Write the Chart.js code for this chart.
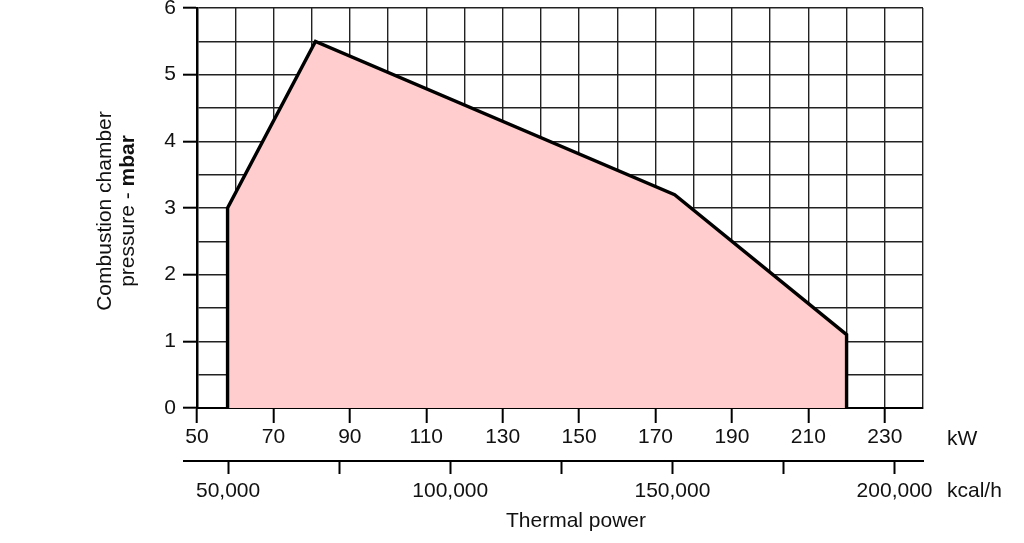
<!DOCTYPE html>
<html>
<head>
<meta charset="utf-8">
<script src="https://cdn.jsdelivr.net/npm/chart.js@4/dist/chart.umd.min.js"></script>
<style>
html,body{margin:0;padding:0;background:#fff;}
#wrap{width:1024px;height:543px;position:relative;}
</style>
</head>
<body>
<div id="wrap"><canvas id="c" width="1024" height="543"></canvas></div>
<script>
// ---- data ----
const kwMin = 50;
const kwMax = 240;
const kwGridStep = 10;
const kwTickLabels = [50, 70, 90, 110, 130, 150, 170, 190, 210, 230];
const kcalPerKw = 860;
const kcalTicks = [50000, 75000, 100000, 125000, 150000, 175000, 200000];
const kcalLabels = [50000, 100000, 150000, 200000];
const pressureMin = 0;
const pressureMax = 6;
const pressureGridStep = 0.5;
const pressureTickLabels = [0, 1, 2, 3, 4, 5, 6];
const curveKw = [58, 58, 81, 175, 220, 220];
const curveMbar = [0, 3, 5.5, 3.2, 1.1, 0];

const FONT = "'Liberation Sans', Arial, Helvetica, sans-serif";
const tickFont = {family: FONT, size: 21};

const points = curveKw.map((x, i) => ({x: x, y: curveMbar[i]}));

const textPlugin = {
  id: 'texts',
  afterDraw(chart) {
    const ctx = chart.ctx;
    const ca = chart.chartArea;
    const x2 = chart.scales.x2;
    ctx.save();
    // extend kcal/h axis line to the left
    ctx.strokeStyle = '#000';
    ctx.lineWidth = 2;
    ctx.beginPath();
    ctx.moveTo(183, Math.round(x2.top));
    ctx.lineTo(ca.left, Math.round(x2.top));
    ctx.stroke();

    ctx.fillStyle = '#111';
    ctx.textBaseline = 'middle';
    ctx.font = `21px ${FONT}`;
    ctx.textAlign = 'left';
    ctx.fillText('kW', 947, 439);
    ctx.fillText('kcal/h', 947, 491);
    ctx.textAlign = 'center';
    ctx.fillText('Thermal power', 576, 521);

    // rotated y title
    const cy = 211;
    ctx.save();
    ctx.translate(105, cy);
    ctx.rotate(-Math.PI / 2);
    ctx.textAlign = 'center';
    ctx.font = `21px ${FONT}`;
    ctx.fillText('Combustion chamber', 0, 0);
    ctx.restore();

    ctx.save();
    ctx.translate(128, cy);
    ctx.rotate(-Math.PI / 2);
    const partA = 'pressure - ';
    const partB = 'mbar';
    ctx.font = `21px ${FONT}`;
    const wA = ctx.measureText(partA).width;
    ctx.font = `bold 21px ${FONT}`;
    const wB = ctx.measureText(partB).width;
    const start = -(wA + wB) / 2;
    ctx.textAlign = 'left';
    ctx.font = `21px ${FONT}`;
    ctx.fillText(partA, start, 0);
    ctx.font = `bold 21px ${FONT}`;
    ctx.fillText(partB, start + wA, 0);
    ctx.restore();
    ctx.restore();
  }
};

new Chart(document.getElementById('c'), {
  type: 'scatter',
  data: {
    datasets: [{
      data: points,
      showLine: true,
      borderColor: '#000',
      borderWidth: 3.4,
      backgroundColor: 'rgb(255,205,205)',
      fill: 'origin',
      pointRadius: 0,
      tension: 0,
      borderJoinStyle: 'miter'
    }]
  },
  options: {
    responsive: false,
    animation: false,
    devicePixelRatio: 1,
    layout: {padding: {left: 0, right: 101, top: 8, bottom: 0}},
    plugins: {legend: {display: false}, tooltip: {enabled: false}},
    scales: {
      x: {
        type: 'linear',
        position: 'bottom',
        weight: 0,
        z: 1,
        min: kwMin,
        max: kwMax,
        afterBuildTicks: (axis) => {
          const t = [];
          for (let v = kwMin; v <= kwMax; v += kwGridStep) t.push({value: v});
          axis.ticks = t;
        },
        afterFit: (axis) => { axis.height = 53; axis.paddingLeft = 0; axis.paddingRight = 0; },
        grid: {
          color: '#222',
          lineWidth: 1.4,
          drawTicks: true,
          tickLength: 15,
          tickWidth: 2,
          tickColor: (c) => (c.tick && kwTickLabels.includes(c.tick.value)) ? '#000' : 'rgba(0,0,0,0)'
        },
        border: {display: true, color: '#000', width: 2},
        ticks: {
          autoSkip: false,
          maxRotation: 0,
          padding: 2,
          color: '#111',
          font: tickFont,
          callback: (v) => kwTickLabels.includes(v) ? String(v) : ''
        }
      },
      x2: {
        type: 'linear',
        position: 'bottom',
        weight: 1,
        min: kwMin * kcalPerKw,
        max: kwMax * kcalPerKw,
        afterBuildTicks: (axis) => { axis.ticks = kcalTicks.map(v => ({value: v})); },
        afterFit: (axis) => { axis.height = 82; axis.paddingLeft = 0; axis.paddingRight = 0; },
        grid: {
          drawOnChartArea: false,
          drawTicks: true,
          tickLength: 13,
          tickWidth: 2,
          tickColor: '#000'
        },
        border: {display: true, color: '#000', width: 2},
        ticks: {
          autoSkip: false,
          maxRotation: 0,
          padding: 5,
          color: '#111',
          font: tickFont,
          callback: (v) => kcalLabels.includes(v) ? v.toLocaleString('en-US') : ''
        }
      },
      y: {
        type: 'linear',
        z: 1,
        min: pressureMin,
        max: pressureMax,
        afterBuildTicks: (axis) => {
          const t = [];
          for (let v = pressureMin; v <= pressureMax + 1e-9; v += pressureGridStep) t.push({value: Math.round(v * 10) / 10});
          axis.ticks = t;
        },
        afterFit: (axis) => { axis.width = 197; axis.paddingTop = 0; axis.paddingBottom = 0; },
        grid: {
          color: '#222',
          lineWidth: 1.4,
          drawTicks: true,
          tickLength: 14,
          tickWidth: 2,
          tickColor: (c) => (c.tick && pressureTickLabels.includes(c.tick.value)) ? '#000' : 'rgba(0,0,0,0)'
        },
        border: {display: true, color: '#000', width: 2.5},
        ticks: {
          autoSkip: false,
          padding: 7,
          color: '#111',
          font: tickFont,
          callback: (v) => pressureTickLabels.includes(v) ? String(v) : ''
        }
      }
    }
  },
  plugins: [textPlugin]
});
</script>
</body>
</html>
